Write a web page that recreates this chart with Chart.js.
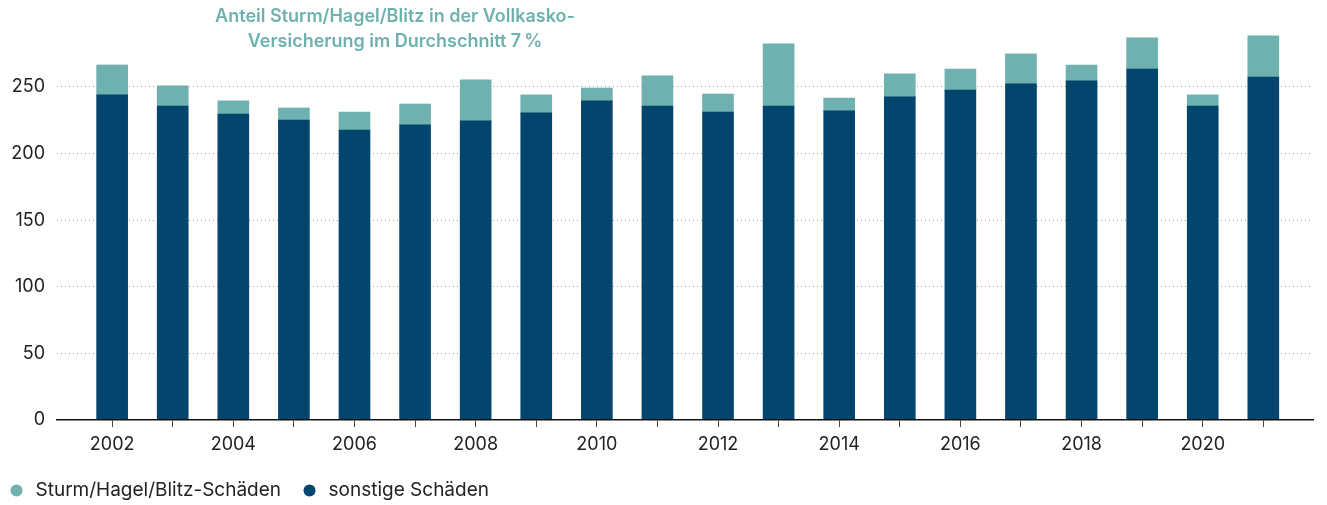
<!DOCTYPE html>
<html>
<head>
<meta charset="utf-8">
<script src="https://cdn.jsdelivr.net/npm/chart.js@4"></script>
<style>
  html, body { margin: 0; padding: 0; background: #fff; }
  #wrap { width: 1327px; height: 505px; position: relative; }
</style>
</head>
<body>
<div id="wrap"><canvas id="chart"></canvas></div>
<script>
// Schadenaufwand je Jahr
const jahre = [2002, 2003, 2004, 2005, 2006, 2007, 2008, 2009, 2010, 2011,
               2012, 2013, 2014, 2015, 2016, 2017, 2018, 2019, 2020, 2021];
const sonstige = [244, 235.7, 229.7, 225.2, 217.7, 221.5, 224.5, 230.5, 239.5, 235.7,
                  231.2, 235.7, 232, 242.5, 247.7, 252.3, 254.5, 263.5, 235.7, 257.5];
const sturm = [22.5, 15.1, 9.8, 9, 13.5, 15.7, 30.8, 13.5, 9.7, 22.6,
               13.5, 46.6, 9.7, 17.3, 15.8, 22.5, 12, 23.3, 8.3, 30.8];
const yTicks = [0, 50, 100, 150, 200, 250];
const titel = ['Anteil Sturm/Hagel/Blitz in der Vollkasko-', 'Versicherung im Durchschnitt 7\u2009%'];

const dunkel = '#03456d';
const petrol = '#6eb1af';

Chart.defaults.font.family = 'Inter';
Chart.defaults.font.size = 18;
Chart.defaults.color = '#222';

// Titel oben links über den Balken
const titelPlugin = {
    id: 'titel',
    afterDraw(chart) {
        const ctx = chart.ctx;
        ctx.save();
        ctx.font = '600 18px Inter';
        ctx.fillStyle = petrol;
        ctx.textAlign = 'center';
        ctx.textBaseline = 'middle';
        titel.forEach((t, i) => ctx.fillText(t, 395, 17 + i * 25));
        ctx.restore();
    }
};

new Chart(document.getElementById('chart'), {
    type: 'bar',
    data: {
        datasets: [{
            label: 'sonstige Schäden',
            data: jahre.map((j, i) => ({ x: j, y: sonstige[i] })),
            backgroundColor: dunkel,
            barThickness: 31
        }, {
            label: 'Sturm/Hagel/Blitz-Schäden',
            data: jahre.map((j, i) => ({ x: j, y: sturm[i] })),
            backgroundColor: petrol,
            barThickness: 31
        }]
    },
    options: {
        responsive: true,
        maintainAspectRatio: false,
        animation: false,
        layout: { padding: { top: 27, right: 14, left: -12, bottom: -5 } },
        plugins: {
            tooltip: { enabled: false },
            legend: {
                position: 'bottom',
                align: 'start',
                reverse: true,
                labels: {
                    usePointStyle: true,
                    pointStyle: 'circle',
                    boxWidth: 19,
                    boxHeight: 8.5,
                    padding: 19,
                    color: '#222',
                    font: { size: 19 }
                }
            }
        },
        scales: {
            x: {
                type: 'linear',
                stacked: true,
                min: 2001.09,
                max: 2021.82,
                offset: false,
                afterBuildTicks: s => { s.ticks = jahre.map(v => ({ value: v })); },
                afterFit: s => { s.height = 42; },
                ticks: {
                    autoSkip: false,
                    maxRotation: 0,
                    padding: 7,
                    color: '#222',
                    callback: v => (v % 2 === 0 ? String(v) : '')
                },
                grid: { offset: false, drawOnChartArea: false, drawTicks: true, tickLength: 7, color: '#444' },
                border: { display: true, color: '#111', width: 1.5, z: 1 }
            },
            y: {
                stacked: true,
                min: 0,
                max: 295,
                afterBuildTicks: s => { s.ticks = yTicks.map(v => ({ value: v })); },
                afterFit: s => { s.width = 69; },
                ticks: { padding: 12, color: '#222' },
                grid: {
                    drawTicks: false,
                    color: ctx => (ctx.tick && ctx.tick.value === 0 ? 'rgba(0,0,0,0)' : '#9a9a9a')
                },
                border: { display: false, dash: [1, 3] }
            }
        }
    },
    plugins: [titelPlugin]
});
</script>
</body>
</html>
